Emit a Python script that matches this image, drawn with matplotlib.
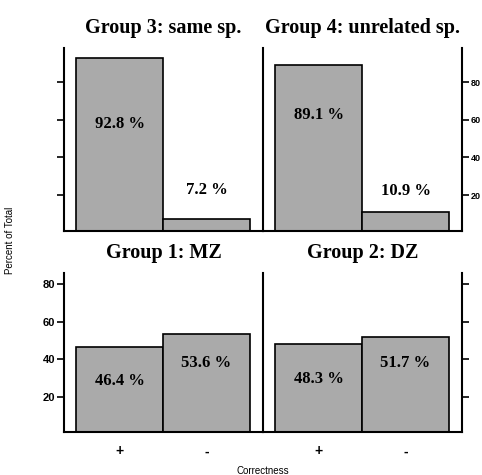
import numpy as np
import matplotlib.pyplot as plt

# data
groups = ["Group 3: same sp.", "Group 4: unrelated sp.", "Group 1: MZ", "Group 2: DZ"]
categories = ["+", "-"]
percent = [[92.8, 7.2], [89.1, 10.9], [46.4, 53.6], [48.3, 51.7]]
label_y = [[57.7, 22.6], [62.5, 22.1], [28.5, 38.0], [29.6, 38.0]]
yticks = [20, 40, 60, 80]

W, H = 482, 475
fig = plt.figure(figsize=(W / 100, H / 100), dpi=100)

serif = "Liberation Serif"
sans = "Liberation Sans"


def box(x0, x1, ytop, ybot):
    # pixel box -> figure fraction
    return [x0 / W, 1 - ybot / H, (x1 - x0) / W, (ybot - ytop) / H]


# top row: y-axis 0 sits at 232.7px, bottom row at 434.7px, 1.883 px per unit
rows = [(48, 231, 232.7), (273, 432, 434.7)]
cols = [(64, 263), (263, 462)]
scale = 1.883

axes = []
for r, (ytop, ybot, yzero) in enumerate(rows):
    for c, (x0, x1) in enumerate(cols):
        ax = fig.add_axes(box(x0, x1, ytop, ybot))
        ax.set_ylim((yzero - ybot) / scale, (yzero - ytop) / scale)
        axes.append((r, c, ax))

for i, (r, c, ax) in enumerate(axes):
    vals = percent[i]
    xs = np.arange(1, len(vals) + 1)
    ax.bar(xs, vals, width=1.0, color="#aaaaaa", edgecolor="black", linewidth=1.2)
    ax.set_xlim(0.36, 2.65)
    for x, v, ly in zip(xs, vals, label_y[i]):
        ax.text(x, ly, f"{v} %", ha="center", va="center", fontsize=12,
                fontweight="bold", family=serif)
    ax.set_title(groups[i], fontsize=14.5, fontweight="bold", family=serif, pad=11)

    for s in ax.spines.values():
        s.set_linewidth(1.5)
    ax.spines["top"].set_visible(False)
    ax.patch.set_visible(False)

    if c == 0:
        ax.spines["right"].set_visible(False)
        ax.yaxis.set_ticks_position("left")
    else:
        ax.spines["right"].set_visible(True)
        ax.yaxis.set_ticks_position("right")
    ax.set_yticks(yticks)
    ax.tick_params(axis="y", length=5, width=1.2, pad=1.5)
    show_labels = (r == 0 and c == 1) or (r == 1 and c == 0)
    if show_labels:
        fs = 6.5 if r == 0 else 8
        ax.set_yticklabels([str(t) for t in yticks], fontsize=fs,
                           fontweight="bold", family=sans)
    else:
        ax.set_yticklabels([])

    if r == 1:
        ax.set_xticks(xs)
        ax.set_xticklabels(categories, fontsize=10, fontweight="bold", family=sans)
        ax.tick_params(axis="x", length=0, pad=9)
    else:
        ax.set_xticks([])

fig.text(10 / W, 1 - 240 / H, "Percent of Total", rotation=90, ha="center",
         va="center", fontsize=7, family=sans)
fig.text(263 / W, 1 - 471 / H, "Correctness", ha="center", va="center",
         fontsize=7, family=sans)

fig.savefig("out.png", dpi=100)
